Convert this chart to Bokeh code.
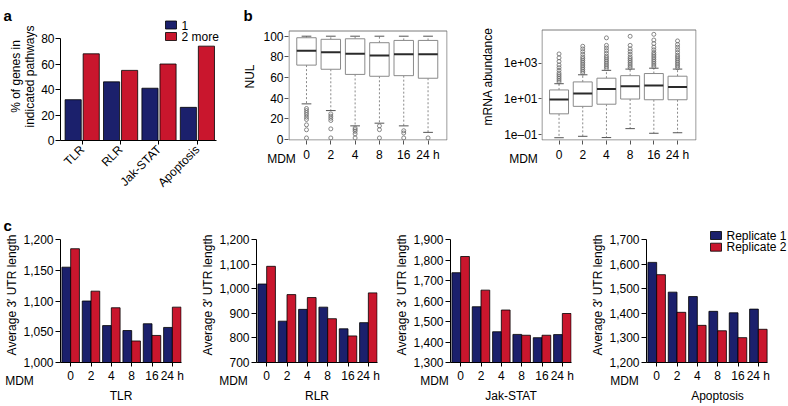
import math
import numpy as np
from bokeh.plotting import figure
from bokeh.layouts import row, column
from bokeh.models import Range1d, FixedTicker, NumeralTickFormatter, Label
from bokeh.embed import file_html
from bokeh.resources import INLINE
from bokeh.core.properties import value

FONT = "Liberation Sans"
FS = "12px"
BLUE = "#1b206c"
RED = "#c9162d"
GRAY = "#8a8a8a"

# ---------------- data ----------------
pathways = ["TLR", "RLR", "Jak-STAT", "Apoptosis"]
pct_one = [32, 46, 41, 26]
pct_more = [68, 55, 60, 74]
legend_a = ["1", "2 more"]

times = ["0", "2", "4", "8", "16", "24 h"]
nul_low = [34.5, 28.0, 13.2, 15.8, 13.2, 6.9]
nul_q1 = [72.0, 68.0, 63.0, 61.2, 61.8, 59.3]
nul_med = [86.0, 84.5, 83.0, 81.4, 82.6, 82.6]
nul_q3 = [98.5, 97.0, 97.5, 93.7, 95.9, 95.9]
nul_high = [100, 100, 100, 100, 100, 100]
nul_out = [
    [30, 28, 26, 24, 21.6, 19.4, 14.2, 9.4, 1.5],
    [24.8, 22.6, 20.6, 18.4, 10.3, 1.5],
    [11, 9.5, 7.9, 5.4, 1.5],
    [13.2, 9.5, 1.5],
    [8.5, 6.3, 1.5],
    [1.5],
]
abund_low_log10 = [-1.18, -1.10, -1.17, -0.67, -0.93, -0.90]
abund_q1_log10 = [0.16, 0.58, 0.70, 0.99, 0.95, 0.95]
abund_med_log10 = [0.97, 1.30, 1.55, 1.71, 1.75, 1.66]
abund_q3_log10 = [1.50, 1.95, 2.16, 2.30, 2.42, 2.27]
abund_high_log10 = [1.85, 2.35, 2.60, 2.67, 2.72, 2.67]
abund_out_log10 = [
    [1.95, 2.05, 2.15, 2.25, 2.35, 2.45, 2.6, 2.75, 2.9, 3.1, 3.3, 3.52],
    [2.45, 2.55, 2.65, 2.75, 2.85, 2.95, 3.05, 3.15, 3.25, 3.35, 3.5, 3.65, 3.8, 3.95],
    [2.7, 2.8, 2.9, 3.0, 3.1, 3.2, 3.3, 3.4, 3.55, 3.7, 3.85, 4.0, 4.42],
    [2.75, 2.85, 2.95, 3.05, 3.15, 3.25, 3.35, 3.5, 3.65, 3.8, 4.0, 4.51],
    [2.8, 2.9, 3.0, 3.1, 3.2, 3.3, 3.4, 3.5, 3.6, 3.75, 3.9, 4.1, 4.3, 4.62],
    [2.75, 2.85, 2.95, 3.05, 3.15, 3.25, 3.35, 3.45, 3.6, 3.75, 3.9, 4.05, 4.25],
]

tlr_r1 = [1155, 1100, 1060, 1052, 1063, 1057]
tlr_r2 = [1185, 1116, 1089, 1035, 1044, 1090]
rlr_r1 = [1019, 868, 916, 925, 837, 862]
rlr_r2 = [1091, 976, 964, 878, 808, 983]
jak_r1 = [1738, 1572, 1450, 1437, 1421, 1436]
jak_r2 = [1817, 1653, 1556, 1433, 1433, 1539]
apo_r1 = [1607, 1486, 1468, 1408, 1402, 1417]
apo_r2 = [1557, 1404, 1351, 1329, 1301, 1335]
legend_c = ["Replicate 1", "Replicate 2"]
c_ticks_y = {
    "TLR": [1000, 1050, 1100, 1150, 1200],
    "RLR": [700, 800, 900, 1000, 1100, 1200],
    "Jak-STAT": [1300, 1400, 1500, 1600, 1700, 1800, 1900],
    "Apoptosis": [1200, 1300, 1400, 1500, 1600, 1700],
}


# ---------------- helpers ----------------
def base_fig(g, y_type="linear"):
    p = figure(width=g["w"], height=g["h"], title=None,
               x_range=Range1d(*g["xr"]), y_range=Range1d(*g["yr"]),
               y_axis_type=y_type, output_backend="svg", toolbar_location=None,
               min_border_left=g["L"], min_border_top=g["T"],
               min_border_right=g["w"] - g["L"] - g["fw"],
               min_border_bottom=g["h"] - g["T"] - g["fh"])
    p.grid.visible = False
    p.outline_line_color = None
    p.background_fill_color = "white"
    p.border_fill_color = "white"
    for ax in (p.xaxis[0], p.yaxis[0]):
        ax.major_label_text_font = FONT
        ax.major_label_text_font_size = FS
        ax.major_label_text_color = "black"
        ax.major_label_text_line_height = 1.0
        ax.axis_label_text_font = FONT
        ax.axis_label_text_font_size = FS
        ax.axis_label_text_font_style = "normal"
        ax.axis_label_text_color = "black"
        ax.axis_label_text_line_height = 1.0
        ax.minor_tick_line_color = None
        ax.major_tick_in = 0
        ax.major_tick_out = 4
        ax.axis_line_color = "black"
        ax.major_tick_line_color = "black"
    return p


def to_data(g, X, Y):
    # page pixel position -> data coordinates of figure g
    px, py = X - g["ox"], Y - g["oy"]
    x0, x1 = g["xr"]
    y0, y1 = g["yr"]
    x = x0 + (px - g["L"]) / g["fw"] * (x1 - x0)
    f = (py - g["T"]) / g["fh"]
    if g.get("log"):
        ly = math.log10(y1) - f * (math.log10(y1) - math.log10(y0))
        y = 10 ** ly
    else:
        y = y1 - f * (y1 - y0)
    return x, y


def add_text(p, g, X, Y, text, side, align="center", size=FS, style="normal"):
    x, y = to_data(g, X, Y)
    p.add_layout(Label(x=x, y=y, text=text, text_align=align, text_baseline="alphabetic",
                       text_font=FONT, text_font_size=size, text_font_style=style,
                       text_color="black", text_line_height=1.0), side)


def add_letter(p, g, X, Y, text):
    # panel letter, placed in canvas pixels of its figure
    p.add_layout(Label(x=X - g["ox"], y=Y - g["oy"], x_units="canvas", y_units="canvas",
                       text=text, text_align="left", text_baseline="alphabetic",
                       text_font=FONT, text_font_size="15px", text_font_style="bold",
                       text_color="black", text_line_height=1.0), "right")


def add_key(p, g, X, Ys, colors, labels, sw=11, sh=8):
    for Y, col, lab in zip(Ys, colors, labels):
        l, t = to_data(g, X, Y - sh / 2)
        r, b = to_data(g, X + sw, Y + sh / 2)
        p.quad(left=[l], right=[r], top=[t], bottom=[b], fill_color=col,
               line_color="black", line_width=0.8)
        tx, ty = to_data(g, X + sw + 5, Y)
        p.text(x=[tx], y=[ty], text=[lab], text_font=value(FONT),
               text_font_size=value(FS), text_baseline="middle", text_align="left",
               text_color="black")


def add_box(p, g, X0, Y0, X1, Y1):
    l, t = to_data(g, X0, Y0)
    r, b = to_data(g, X1, Y1)
    p.quad(left=[l], right=[r], top=[t], bottom=[b], fill_color=None,
           line_color="#7a7a7a", line_width=1)


# Plots sharing a row get aligned top/bottom borders, so each row uses one T and B.
TOP_T, TOP_B = 12, 60
BOT_T, BOT_B = 27, 44

# ---------------- panel a ----------------
ga = dict(ox=0, oy=0, w=238, h=200, L=60, T=TOP_T, fw=165, fh=200 - TOP_T - TOP_B,
          xr=(-0.565, -0.565 + 165 / 38.4), yr=(0, 80 + 26 / 1.275))
pa = base_fig(ga)
xa = np.arange(len(pathways))
pa.vbar(x=xa - 0.235, top=pct_one, bottom=0, width=0.42,
        fill_color=BLUE, line_color="black", line_width=0.8)
pa.vbar(x=xa + 0.235, top=pct_more, bottom=0, width=0.42,
        fill_color=RED, line_color="black", line_width=0.8)
pa.xaxis.ticker = FixedTicker(ticks=list(range(len(pathways))))
pa.xaxis.major_label_overrides = {i: n for i, n in enumerate(pathways)}
pa.xaxis.major_label_orientation = math.pi / 4
pa.xaxis.major_label_standoff = 3
pa.xaxis.bounds = (-0.565, 3.5)
pa.yaxis.ticker = FixedTicker(ticks=[0, 20, 40, 60, 80])
pa.yaxis.bounds = (0, 80)
pa.yaxis.axis_label = "% of genes in\nindicated pathways"
pa.yaxis.major_tick_out = 5
pa.yaxis.major_label_standoff = 1
pa.yaxis.axis_label_standoff = 1
add_key(pa, ga, 165, [24.5, 36.0], [BLUE, RED], legend_a)
add_letter(pa, ga, 3, 15, "a")


# ---------------- panel b ----------------
def boxplot(p, low, q1, med, q3, high, outs):
    pos = np.arange(1, len(low) + 1)
    p.segment(x0=pos, y0=q3, x1=pos, y1=high, line_color=GRAY, line_dash="2 2", line_width=1)
    p.segment(x0=pos, y0=q1, x1=pos, y1=low, line_color=GRAY, line_dash="2 2", line_width=1)
    p.segment(x0=pos - 0.2, y0=high, x1=pos + 0.2, y1=high, line_color="#555555", line_width=1)
    p.segment(x0=pos - 0.2, y0=low, x1=pos + 0.2, y1=low, line_color="#555555", line_width=1)
    p.vbar(x=pos, bottom=q1, top=q3, width=0.8, fill_color="white",
           line_color=GRAY, line_width=1)
    p.segment(x0=pos - 0.4, y0=med, x1=pos + 0.4, y1=med, line_color="#2a2a2a", line_width=2)
    ox = [i + 1 for i, lst in enumerate(outs) for _ in lst]
    oy = [v for lst in outs for v in lst]
    p.scatter(x=ox, y=oy, size=4, marker="circle", fill_color=None,
              line_color="#6a6a6a", line_width=0.8)
    p.xaxis.ticker = FixedTicker(ticks=list(range(1, 7)))
    p.xaxis.major_label_overrides = {i + 1: t for i, t in enumerate(times)}
    p.xaxis.axis_line_color = None
    p.xaxis.major_tick_line_color = "#555555"
    p.xaxis.major_label_standoff = 3
    p.yaxis.axis_line_color = None
    p.yaxis.major_tick_line_color = "#555555"
    p.yaxis.major_label_standoff = 1


B1_PX = 1.033  # px per NUL unit; value 0 sits at page y 139
gb1 = dict(ox=238, oy=0, w=232, h=200, L=50, T=TOP_T, fw=159, fh=200 - TOP_T - TOP_B,
           xr=(0.26, 6.8), yr=((139 - 140) / B1_PX, (139 - TOP_T) / B1_PX))
pb1 = base_fig(gb1)
boxplot(pb1, nul_low, nul_q1, nul_med, nul_q3, nul_high, nul_out)
add_box(pb1, gb1, 288.5, 30.5, 446.5, 139.5)
pb1.yaxis.ticker = FixedTicker(ticks=[0, 20, 40, 60, 80, 100])
pb1.yaxis.bounds = (gb1["yr"][0], (139 - 30) / B1_PX)
pb1.yaxis.axis_label = "NUL"
pb1.yaxis.axis_label_standoff = 3
add_text(pb1, gb1, 281, 158, "MDM", "below")
add_letter(pb1, gb1, 243, 15, "b")

p10 = lambda vals: [float(np.power(10.0, v)) for v in vals]
DEC = 17.83  # px per decade; 1e+03 sits at page y 62.7
gb2 = dict(ox=470, oy=0, w=318, h=200, L=71, T=TOP_T, fw=155, fh=200 - TOP_T - TOP_B,
           xr=(0.26, 6.8),
           yr=(10 ** (3 - (140 - 62.7) / DEC), 10 ** (3 + (62.7 - TOP_T) / DEC)), log=True)
pb2 = base_fig(gb2, y_type="log")
boxplot(pb2, p10(abund_low_log10), p10(abund_q1_log10), p10(abund_med_log10),
        p10(abund_q3_log10), p10(abund_high_log10), [p10(o) for o in abund_out_log10])
add_box(pb2, gb2, 541.5, 29.5, 695.5, 139.5)
pb2.yaxis.ticker = FixedTicker(ticks=[0.1, 10, 1000])
pb2.yaxis.major_label_overrides = {0.1: "1e\u201301", 10: "1e+01", 1000: "1e+03"}
pb2.yaxis.bounds = (gb2["yr"][0], 10 ** (3 + (62.7 - 29) / DEC))
pb2.yaxis.axis_label = "mRNA abundance"
pb2.yaxis.major_tick_out = 3
pb2.yaxis.axis_label_standoff = 6
add_text(pb2, gb2, 523, 158, "MDM", "below")


# ---------------- panel c ----------------
c_sets = [("TLR", tlr_r1, tlr_r2), ("RLR", rlr_r1, rlr_r2),
          ("Jak-STAT", jak_r1, jak_r2), ("Apoptosis", apo_r1, apo_r2)]
c_origin = [0, 196, 390, 586]
c_width = [196, 194, 196, 202]
mdm_x = [19, 233, 434, 624]
PXU = 121 / 5.95
c_figs = []
xc = np.arange(len(times))
FH_C = 206 - BOT_T - BOT_B
for k, (name, r1v, r2v) in enumerate(c_sets):
    yt = c_ticks_y[name]
    span = (yt[-1] - yt[0]) / 123.0
    yr = (yt[0], yt[-1] + (FH_C - 123) * span)
    if k == 3:
        fw = c_width[k] - 60
        xr = (-0.5, -0.5 + fw / PXU)
    else:
        fw = 121
        xr = (-0.5, 5.45)
    g = dict(ox=c_origin[k], oy=200, w=c_width[k], h=206, L=60, T=BOT_T, fw=fw, fh=FH_C,
             xr=xr, yr=yr)
    p = base_fig(g)
    p.vbar(x=xc - 0.215, top=r1v, bottom=yt[0], width=0.43,
           fill_color=BLUE, line_color="black", line_width=0.8)
    p.vbar(x=xc + 0.215, top=r2v, bottom=yt[0], width=0.43,
           fill_color=RED, line_color="black", line_width=0.8)
    p.xaxis.ticker = FixedTicker(ticks=list(range(len(times))))
    p.xaxis.major_label_overrides = {i: t for i, t in enumerate(times)}
    p.xaxis.major_label_standoff = 2
    p.xaxis.bounds = (-0.5, 5.45)
    p.xaxis.axis_label = name
    p.xaxis.axis_label_standoff = 3
    p.yaxis.ticker = FixedTicker(ticks=yt)
    p.yaxis.bounds = (yt[0], yt[-1])
    p.yaxis.formatter = NumeralTickFormatter(format="0,0")
    p.yaxis.axis_label = "Average 3\u2032 UTR length"
    p.yaxis.major_tick_out = 5
    p.yaxis.major_label_standoff = 2
    p.yaxis.axis_label_standoff = 1
    add_text(p, g, mdm_x[k], 380, "MDM", "above")
    if k == 0:
        add_letter(p, g, 3, 225, "c")
    if k == 3:
        add_key(p, g, 710, [235.0, 246.7], [BLUE, RED], legend_c)
    c_figs.append(p)

layout = column(row(pa, pb1, pb2), row(*c_figs))
open("out.html", "w").write(file_html(layout, INLINE))
